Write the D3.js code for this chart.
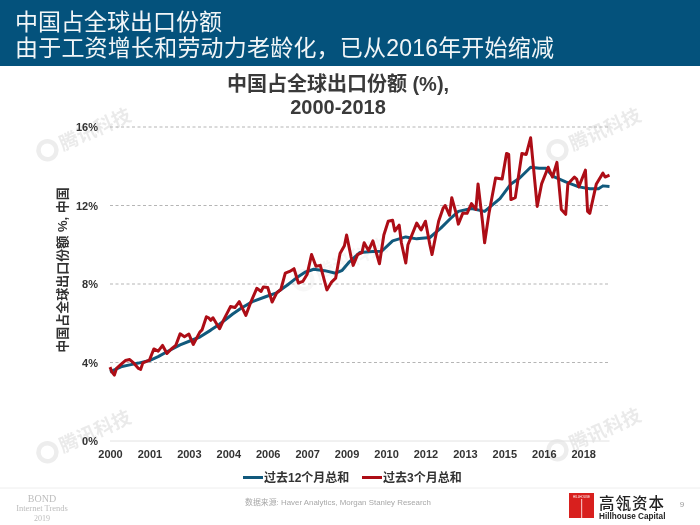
<!DOCTYPE html>
<html><head><meta charset="utf-8">
<script src="https://cdnjs.cloudflare.com/ajax/libs/d3/7.8.5/d3.min.js"></script>
<style>html,body{margin:0;padding:0;background:#fff}svg{display:block;filter:blur(0.35px)}</style></head><body>
<svg id="c" width="700" height="525"></svg>
<script>
const headerLines = ["中国占全球出口份额","由于工资增长和劳动力老龄化，已从2016年开始缩减"];
const chartTitle = ["中国占全球出口份额 (%),","2000-2018"];
const yAxisTitle = "中国占全球出口份额 %, 中国";
const seriesNames = ["过去12个月总和","过去3个月总和"];
const xTickMonths = [0,18,36,54,72,90,108,126,144,162,180,198,216];
const xTickLabels = ["2000","2001","2003","2004","2006","2007","2009","2010","2012","2013","2015","2016","2018"];
const yTicks = [0,4,8,12,16];
// months since Jan 2000 / share of world exports (%)
const m12 = [0,5,9,13,18,22,26,32,37,41,46,50,56,60,65,71,76,81,85,89,93,98,103,106,109,114,120,124,129,135,140,146,151,156,159,165,171,178,183,187,192,196,199,202,208,214,219,223,225,228];
const v12 = [3.52,3.78,3.88,3.97,4.1,4.3,4.55,4.9,5.12,5.3,5.65,5.95,6.47,6.78,7.1,7.35,7.55,7.95,8.3,8.6,8.75,8.68,8.55,8.7,9.1,9.6,9.65,9.67,10.2,10.4,10.3,10.37,10.85,11.4,11.7,11.85,11.7,12.35,13.1,13.4,13.95,13.9,13.9,13.5,13.2,12.95,12.85,12.85,13.0,12.97];
const m3 = [0,1,2,3,5,7,9,11,13,14,15,18,20,22,24,26,28,30,32,34,36,38,41,42,44,45,46,47,50,52,55,57,59,62,64,67,69,70,72,74,76,78,80,82,84,86,88,90,92,94,96,99,101,103,105,107,108,110,111,113,115,116,118,120,123,125,127,129,130,132,133,135,136,140,142,144,146,147,150,152,153,155,156,158,159,161,163,165,167,168,170,171,173,176,179,181,182,183,185,188,190,192,195,197,200,202,204,206,208,209,212,213,214,217,218,219,222,225,226,228];
const v3 = [3.76,3.5,3.36,3.7,3.9,4.1,4.15,3.95,3.7,3.65,3.98,4.12,4.69,4.58,4.87,4.46,4.69,4.87,5.46,5.31,5.45,4.92,5.55,5.66,6.33,6.28,6.15,6.28,5.72,6.2,6.85,6.8,7.1,6.4,7.0,7.78,7.62,7.85,7.82,7.08,7.53,7.72,8.55,8.64,8.78,8.05,8.13,8.5,9.5,8.9,8.95,7.7,8.08,8.3,9.55,9.95,10.5,9.4,8.95,9.5,9.6,10.1,9.7,10.2,9.03,10.5,11.2,11.25,10.7,11.0,10.1,9.07,10.0,11.1,10.75,11.2,10.0,9.5,11.2,11.85,12.0,11.5,12.4,11.6,11.05,11.6,11.6,12.1,11.8,13.1,11.2,10.1,11.6,13.4,13.35,14.65,14.6,12.3,12.4,14.65,14.6,15.45,11.95,13.1,13.95,13.45,14.2,11.8,11.55,13.1,13.45,13.35,12.95,13.8,11.7,11.6,13.1,13.65,13.45,13.55];
const watermarkText = "腾讯科技";
const sourceText = "数据来源: Haver Analytics, Morgan Stanley Research";

const svg = d3.select("#c");
const sans = "'Liberation Sans','Noto Sans CJK SC',sans-serif";

// watermarks
[[84,134,.5],[84,436,.5],[594,134,.5],[594,434,.5],[340,264,.22]].forEach(([wx,wy,op])=>{
  const g = svg.append("g").attr("transform",`translate(${wx},${wy}) rotate(-24)`).attr("opacity",op);
  g.append("circle").attr("cx",-40).attr("cy",0).attr("r",9).attr("fill","none").attr("stroke","#dcdcdc").attr("stroke-width",4.5);
  g.append("text").attr("x",-26).attr("y",7).attr("font-family",sans).attr("font-weight",700).attr("font-size",19).attr("fill","#d6d6d6").text(watermarkText);
});

// header
svg.append("rect").attr("width",700).attr("height",66).attr("fill","#04527c");
svg.selectAll("text.h").data(headerLines).join("text").attr("class","h").attr("x",15).attr("y",(d,i)=>[30,56][i])
  .attr("font-family",sans).attr("font-size",23).attr("letter-spacing",(d,i)=>i?0.2:0).attr("fill","#f2f6f8").text(d=>d);

// chart title
svg.selectAll("text.t").data(chartTitle).join("text").attr("class","t").attr("x",338).attr("y",(d,i)=>[91,114][i])
  .attr("text-anchor","middle").attr("font-family",sans).attr("font-weight",700).attr("font-size",20).attr("fill","#3a3a3a").text(d=>d);

const x = d3.scaleLinear().domain([0,228]).range([110,609.5]);
const y = d3.scaleLinear().domain([0,16]).range([441,127]);

// y axis + grid
const ya = svg.append("g").attr("transform","translate(110,0)").call(d3.axisLeft(y).tickValues(yTicks).tickFormat(d=>d+"%").tickSize(0).tickPadding(12));
ya.select(".domain").remove();
ya.selectAll("text").attr("font-family",sans).attr("font-weight",700).attr("font-size",11).attr("fill","#333");
svg.append("g").selectAll("line").data(yTicks).join("line")
  .attr("x1",110).attr("x2",609.5).attr("y1",d=>y(d)).attr("y2",d=>y(d))
  .attr("stroke",d=>d===0?"#e2e2e2":"#b5b5b5").attr("stroke-width",1).attr("stroke-dasharray",d=>d===0?null:"3 2.5");

// x axis
const xa = svg.append("g").attr("transform","translate(0,441)").call(d3.axisBottom(x).tickValues(xTickMonths).tickFormat((d,i)=>xTickLabels[i]).tickSize(0).tickPadding(9));
xa.select(".domain").remove();
xa.selectAll("text").attr("font-family",sans).attr("font-weight",700).attr("font-size",11).attr("fill","#333");

// y title
svg.append("text").attr("transform","translate(67,270) rotate(-90)").attr("text-anchor","middle")
  .attr("font-family",sans).attr("font-weight",700).attr("font-size",13).attr("fill","#333").text(yAxisTitle);

// lines
const line = d3.line().x(d=>x(d[0])).y(d=>y(d[1])).curve(d3.curveLinear);
const colors = ["#11597c","#ad0d16"];
svg.append("path").datum(d3.zip(m12,v12)).attr("d",line).attr("fill","none").attr("stroke",colors[0]).attr("stroke-width",3).attr("stroke-linejoin","round");
svg.append("path").datum(d3.zip(m3,v3)).attr("d",line).attr("fill","none").attr("stroke",colors[1]).attr("stroke-width",3).attr("stroke-linejoin","round");

// legend
const lx=[243,362];
seriesNames.forEach((n,i)=>{
  svg.append("line").attr("x1",lx[i]).attr("x2",lx[i]+20).attr("y1",477.5).attr("y2",477.5).attr("stroke",colors[i]).attr("stroke-width",3);
  svg.append("text").attr("x",lx[i]+21).attr("y",482).attr("font-family",sans).attr("font-weight",700).attr("font-size",12).attr("fill","#333").text(n);
});

// footer
svg.append("line").attr("x1",0).attr("x2",700).attr("y1",488).attr("y2",488).attr("stroke","#eeeeee");
const serif="'Liberation Serif',serif";
[["BOND",502,10],["Internet Trends",511,8.5],["2019",521,8]].forEach(([t,yy,fs])=>{
  svg.append("text").attr("x",42).attr("y",yy).attr("text-anchor","middle").attr("font-family",serif).attr("font-size",fs).attr("fill","#bdbdbd").text(t);
});
svg.append("text").attr("x",338).attr("y",505).attr("text-anchor","middle").attr("font-family",sans).attr("font-size",7.9).attr("fill","#a8a8a8").text(sourceText);
svg.append("rect").attr("x",569).attr("y",493).attr("width",25).attr("height",25).attr("fill","#d8201e");
svg.append("text").attr("x",581.5).attr("y",498).attr("text-anchor","middle").attr("font-family",sans).attr("font-size",3).attr("fill","#fff").text("HILLHOUSE");
svg.append("rect").attr("x",581).attr("y",499).attr("width",1.2).attr("height",19).attr("fill","#f5b5b5");
svg.append("text").attr("x",599).attr("y",509).attr("font-family",sans).attr("font-weight",500).attr("font-size",15.5).attr("letter-spacing",1).attr("fill","#222").text("高瓴资本");
svg.append("text").attr("x",599).attr("y",518.5).attr("font-family",sans).attr("font-weight",700).attr("font-size",8.2).attr("fill","#222").text("Hillhouse Capital");
svg.append("text").attr("x",682).attr("y",507).attr("text-anchor","middle").attr("font-family",sans).attr("font-size",8).attr("fill","#999").text("9");
</script></body></html>
